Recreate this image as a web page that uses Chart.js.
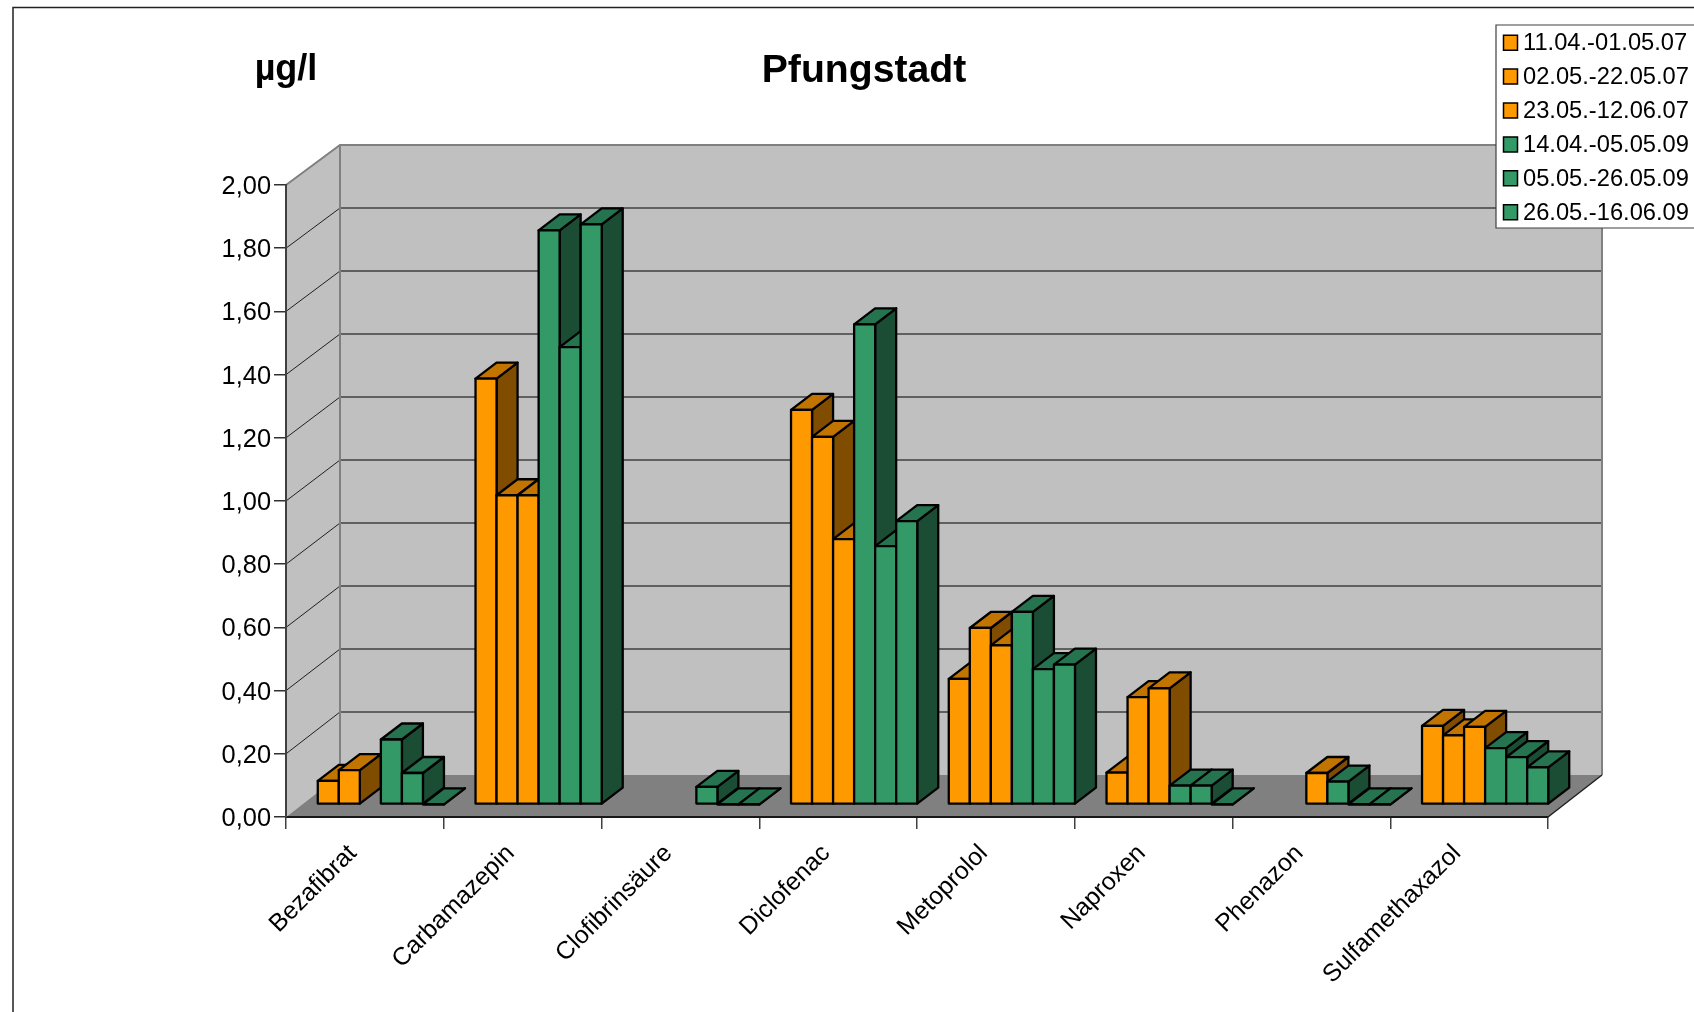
<!DOCTYPE html>
<html>
<head>
<meta charset="utf-8">
<title>Pfungstadt</title>
<script src="https://cdn.jsdelivr.net/npm/chart.js@4"></script>
<style>
    body { margin: 0; background: #fff; }
    canvas { display: block; }
</style>
</head>
<body>
<canvas id="chart" width="1694" height="1012"></canvas>
<script>
const categories = ["Bezafibrat", "Carbamazepin", "Clofibrinsäure", "Diclofenac", "Metoprolol", "Naproxen", "Phenazon", "Sulfamethaxazol"];
const seriesLabels = ["11.04.-01.05.07", "02.05.-22.05.07", "23.05.-12.06.07", "14.04.-05.05.09", "05.05.-26.05.09", "26.05.-16.06.09"];
const series1 = [0.074, 1.347, null, 1.248, 0.397, 0.100, null, 0.248];
const series2 = [0.108, 0.978, null, 1.163, 0.558, 0.339, null, 0.218];
const series3 = [null, 0.978, null, 0.839, 0.503, 0.367, 0.099, 0.245];
const series4 = [0.205, 1.816, 0.055, 1.519, 0.609, 0.059, 0.072, 0.178];
const series5 = [0.099, 1.447, 0, 0.817, 0.428, 0.059, 0, 0.149];
const series6 = [0, 1.835, 0, 0.896, 0.442, 0, 0, 0.117];
const yTickLabels = ["0,00", "0,20", "0,40", "0,60", "0,80", "1,00", "1,20", "1,40", "1,60", "1,80", "2,00"];

const ORANGE = "#ff9900";
const GREEN = "#339966";
const shades = {
    [ORANGE]: { top: "#c27400", side: "#804d00" },
    [GREEN]: { top: "#267350", side: "#1a4d33" },
};
const seriesValues = [series1, series2, series3, series4, series5, series6];
const seriesColors = [ORANGE, ORANGE, ORANGE, GREEN, GREEN, GREEN];

// depth of the whole plot box and of a single bar
const BOX_DX = 54, BOX_DY_FLOOR = -42, BOX_DY_TOP = -40;
const BAR_DX = 21, BAR_DY = -16;
const BAR_SHIFT_X = 16, BAR_SHIFT_Y = -12.7;

function poly(ctx, pts, fill, stroke, lw) {
    ctx.beginPath();
    pts.forEach((p, i) => (i ? ctx.lineTo(p[0], p[1]) : ctx.moveTo(p[0], p[1])));
    ctx.closePath();
    if (fill) {
        ctx.fillStyle = fill;
        ctx.fill();
    }
    if (stroke) {
        ctx.strokeStyle = stroke;
        ctx.lineWidth = lw;
        ctx.stroke();
    }
}

// bars get a top and a side face, moved back from the front plane
Chart.BarElement.prototype.draw = function (ctx) {
    const { x, y, base, width } = this.getProps(["x", "y", "base", "width"]);
    const o = this.options;
    const l = x - width / 2 + BAR_SHIFT_X;
    const r = l + width;
    const t = y + BAR_SHIFT_Y;
    const b = base + BAR_SHIFT_Y;
    const s = shades[o.backgroundColor];
    ctx.save();
    ctx.lineJoin = "round";
    poly(ctx, [[r, t], [r + BAR_DX, t + BAR_DY], [r + BAR_DX, b + BAR_DY], [r, b]], s.side, o.borderColor, o.borderWidth);
    poly(ctx, [[l, t], [l + BAR_DX, t + BAR_DY], [r + BAR_DX, t + BAR_DY], [r, t]], s.top, o.borderColor, o.borderWidth);
    poly(ctx, [[l, t], [r, t], [r, b], [l, b]], o.backgroundColor, o.borderColor, o.borderWidth);
    ctx.restore();
};

const box3d = {
    id: "box3d",
    beforeDraw(chart) {
        const ctx = chart.ctx;
        const { left, right, top, bottom } = chart.chartArea;
        const yScale = chart.scales.y;
        const backTop = top + BOX_DY_TOP;
        const backBottom = bottom + BOX_DY_FLOOR;
        const backLeft = left + BOX_DX;
        const backRight = right + BOX_DX;
        ctx.save();

        // frame around the picture, cut off at right and bottom
        ctx.strokeStyle = "#222";
        ctx.lineWidth = 1.5;
        ctx.beginPath();
        ctx.moveTo(13, 1012);
        ctx.lineTo(13, 7.5);
        ctx.lineTo(1694, 7.5);
        ctx.stroke();

        poly(ctx, [[left, top], [backLeft, backTop], [backRight, backTop], [backRight, backBottom], [backLeft, backBottom], [left, bottom]], "#c0c0c0");
        poly(ctx, [[left, bottom], [backLeft, backBottom], [backRight, backBottom], [right, bottom]], "#808080");

        // grid on the side wall and the back wall
        yTickLabels.forEach((_, i) => {
            if (i === 0 || i === yTickLabels.length - 1) return;
            const py = yScale.getPixelForValue(i * 0.2);
            const backY = backBottom + (py - bottom) * (backBottom - backTop) / (bottom - top);
            ctx.strokeStyle = "#202020";
            ctx.lineWidth = 1;
            ctx.beginPath();
            ctx.moveTo(left, py);
            ctx.lineTo(backLeft, backY);
            ctx.stroke();
            ctx.strokeStyle = "#404040";
            ctx.lineWidth = 1.3;
            ctx.beginPath();
            ctx.moveTo(backLeft, backY);
            ctx.lineTo(backRight, backY);
            ctx.stroke();
        });

        ctx.strokeStyle = "#808080";
        ctx.lineWidth = 2;
        ctx.beginPath();
        ctx.moveTo(left, top);
        ctx.lineTo(backLeft, backTop);
        ctx.lineTo(backRight, backTop);
        ctx.lineTo(backRight, backBottom);
        ctx.moveTo(backLeft, backTop);
        ctx.lineTo(backLeft, backBottom);
        ctx.stroke();
        ctx.strokeStyle = "#202020";
        ctx.lineWidth = 1.5;
        ctx.beginPath();
        ctx.moveTo(right, bottom);
        ctx.lineTo(backRight, backBottom);
        ctx.stroke();
        ctx.restore();
    },
    beforeDatasetsDraw(chart) {
        // paint left to right so each bar covers the side of the one before it
        chart.getSortedVisibleDatasetMetas().forEach((meta) => meta.controller.draw());
        return false;
    },
    afterDraw(chart) {
        const ctx = chart.ctx;
        ctx.save();
        ctx.fillStyle = "#000";
        ctx.textBaseline = "middle";
        ctx.textAlign = "center";
        ctx.font = "bold 39.2px 'Liberation Sans'";
        ctx.fillText("Pfungstadt", 864, 71);
        ctx.font = "bold 36px 'Liberation Sans'";
        ctx.fillText("µg/l", 286, 70);

        // legend box, the right side runs off the picture
        ctx.fillStyle = "#fff";
        ctx.fillRect(1496, 25, 198, 203);
        ctx.strokeStyle = "#404040";
        ctx.lineWidth = 1.2;
        ctx.beginPath();
        ctx.moveTo(1694, 25);
        ctx.lineTo(1496, 25);
        ctx.lineTo(1496, 228);
        ctx.lineTo(1694, 228);
        ctx.stroke();
        ctx.textAlign = "left";
        ctx.font = "23.7px 'Liberation Sans'";
        chart.data.datasets.forEach((ds, i) => {
            const cy = 42.7 + i * 33.9;
            poly(ctx, [[1503.5, cy - 7.5], [1517.5, cy - 7.5], [1517.5, cy + 7.5], [1503.5, cy + 7.5]], ds.backgroundColor, "#000", 1.5);
            ctx.fillStyle = "#000";
            ctx.fillText(ds.label, 1523, cy + 1);
        });
        ctx.restore();
    },
};

new Chart(document.getElementById("chart"), {
    type: "bar",
    data: {
        labels: categories,
        datasets: seriesLabels.map((label, i) => ({
            label: label,
            data: seriesValues[i],
            backgroundColor: seriesColors[i],
            borderColor: "#000",
            borderWidth: 2.3,
            categoryPercentage: 0.8,
            barPercentage: 1,
            clip: false,
        })),
    },
    options: {
        responsive: false,
        animation: false,
        layout: {
            autoPadding: false,
            padding: { left: 86, right: 146, top: 185, bottom: 0 },
        },
        plugins: {
            legend: { display: false },
            title: { display: false },
            tooltip: { enabled: false },
        },
        scales: {
            x: {
                afterFit: (scale) => { scale.height = 195; },
                grid: { drawOnChartArea: false, color: "#404040", lineWidth: 1.5, tickLength: 12 },
                border: { color: "#181818", width: 2 },
                ticks: {
                    color: "#000",
                    minRotation: 45,
                    maxRotation: 45,
                    padding: 10,
                    labelOffset: -12,
                    autoSkip: false,
                    font: { family: "'Liberation Sans'", size: 24.8 },
                },
            },
            y: {
                min: 0,
                max: 2,
                afterFit: (scale) => { scale.width = 200; },
                grid: { drawOnChartArea: false, color: "#303030", lineWidth: 1.5, tickLength: 12 },
                border: { color: "#404040", width: 2 },
                ticks: {
                    stepSize: 0.2,
                    color: "#000",
                    padding: 3,
                    labelOffset: 2,
                    font: { family: "'Liberation Sans'", size: 25.4 },
                    callback: (v, i) => yTickLabels[i],
                },
            },
        },
    },
    plugins: [box3d],
});
</script>
</body>
</html>
